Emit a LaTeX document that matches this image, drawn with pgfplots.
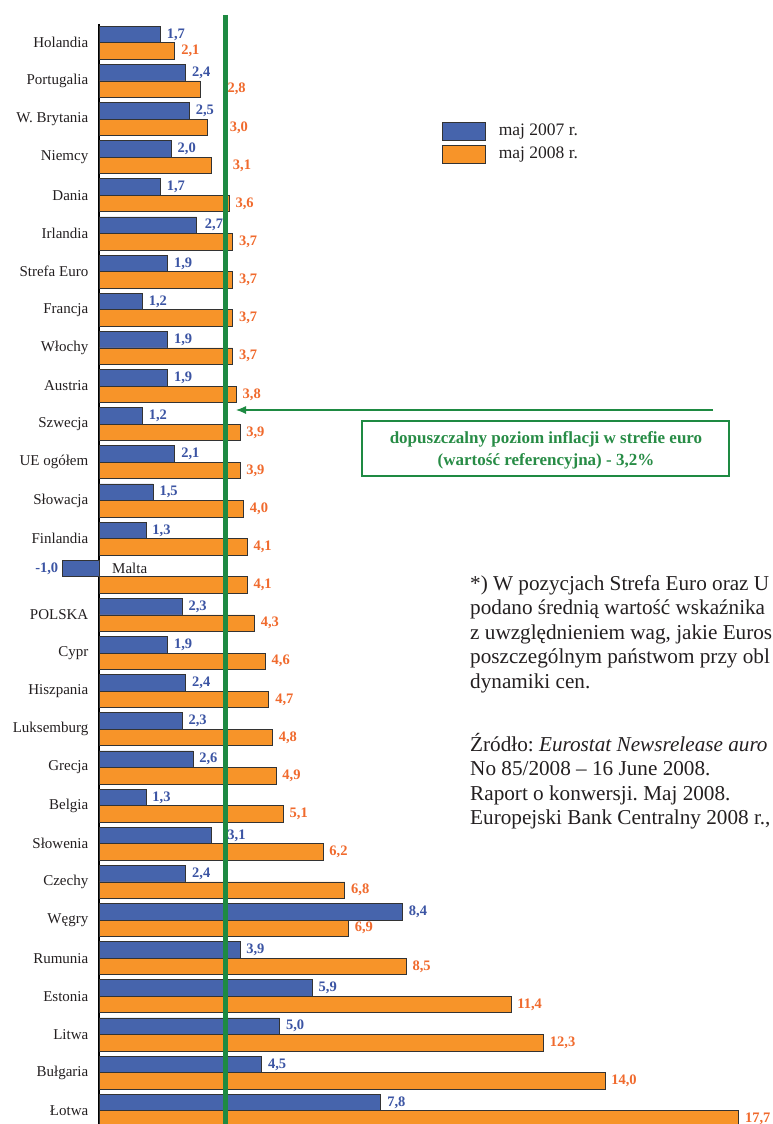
\documentclass[border=0pt]{standalone}
\usepackage{pgfplots}
\pgfplotsset{compat=1.18}
\usepackage{pgfplotstable}
\usepackage{fontspec}
\setmainfont{Liberation Serif}
\usetikzlibrary{arrows.meta}
\frenchspacing

\definecolor{barblue}{RGB}{70,100,172}
\definecolor{barorange}{RGB}{247,148,41}
\definecolor{lblblue}{RGB}{59,84,163}
\definecolor{lblorange}{RGB}{240,106,45}
\definecolor{refgreen}{RGB}{30,138,66}
\definecolor{txtgreen}{RGB}{40,140,70}
\definecolor{txtdark}{RGB}{35,31,32}

% i = row (0 = top); y07 = maj 2007, y08 = maj 2008; d07/d08 = label offset (pt)
\pgfplotstableread{
i  y07  d07  y08   d08
0  1.7  6    2.1   6
1  2.4  6    2.8   27
2  2.5  6    3.0   22
3  2.0  6    3.1   21.5
4  1.7  6    3.6   6
5  2.7  8    3.7   6
6  1.9  6    3.7   6
7  1.2  6    3.7   6
8  1.9  6    3.7   6
9  1.9  6    3.8   6
10 1.2  6    3.9   6
11 2.1  6    3.9   6
12 1.5  6    4.0   6
13 1.3  6    4.1   6
14 -1.0 -28  4.1   6
15 2.3  6    4.3   6
16 1.9  6    4.6   6
17 2.4  6    4.7   6
18 2.3  6    4.8   6
19 2.6  6    4.9   6
20 1.3  6    5.1   6
21 3.1  16   6.2   6
22 2.4  6    6.8   6
23 8.4  6    6.9   6
24 3.9  6    8.5   6
25 5.9  6    11.4  6
26 5.0  6    12.3  6
27 4.5  6    14.0  6
28 7.8  6    17.7  6
}\inflation

\begin{document}
\begin{tikzpicture}
\begin{axis}[
  scale only axis,
  width=674pt, height=1100pt,
  at={(99pt,-1124pt)}, anchor=south west,
  xmin=0, xmax=18.65,
  ymin=-0.493, ymax=28.348,
  y dir=reverse,
  enlargelimits=false,
  clip=false,
  axis x line=none,
  axis y line*=left,
  y axis line style={black, line width=1.2pt},
  xtick=\empty,
  ytick={0,...,28},
  yticklabels={Holandia,Portugalia,W. Brytania,Niemcy,Dania,Irlandia,Strefa Euro,Francja,Włochy,Austria,Szwecja,UE ogółem,Słowacja,Finlandia,{},POLSKA,Cypr,Hiszpania,Luksemburg,Grecja,Belgia,Słowenia,Czechy,Węgry,Rumunia,Estonia,Litwa,Bułgaria,Łotwa},
  major tick length=0pt,
  yticklabel style={font=\fontsize{15}{17}\selectfont, text=txtdark, inner sep=0pt, anchor=east, xshift=-10.5pt},
  /pgf/number format/fixed,
  /pgf/number format/fixed zerofill,
  /pgf/number format/precision=1,
  /pgf/number format/use comma,
  /pgf/number format/assume math mode=true,
  legend style={at={(axis description cs:0.5089,0.9106)}, anchor=north west,
    draw=none, fill=none, inner sep=0pt, outer sep=0pt, row sep=4pt, column sep=13pt,
    nodes={inner sep=0pt, text height=12pt, text depth=4pt},
    font=\fontsize{17.5}{20}\selectfont, text=txtdark},
  legend cell align=left,
]
\addplot[xbar, bar width=0.433, bar shift=0pt, fill=barblue, draw=black!80, line width=0.8pt,
  nodes near coords, point meta=x,
  visualization depends on={\thisrow{d07} \as \dshift},
  every node near coord/.append style={anchor=west, inner sep=0pt, xshift=\dshift pt, text=lblblue, font=\fontsize{14.5}{16}\selectfont\bfseries},
  legend image code/.code={\draw[fill=barblue, draw=black!80, line width=0.8pt] (0pt,-9pt) rectangle (43pt,9pt);}]
  table[x=y07, y expr=\thisrow{i}-0.2165] {\inflation};
\addlegendentry{maj 2007 r.}
\addplot[xbar, bar width=0.433, bar shift=0pt, fill=barorange, draw=black!80, line width=0.8pt,
  nodes near coords, point meta=x,
  visualization depends on={\thisrow{d08} \as \dshift},
  every node near coord/.append style={anchor=west, inner sep=0pt, xshift=\dshift pt, text=lblorange, font=\fontsize{14.5}{16}\selectfont\bfseries},
  legend image code/.code={\draw[fill=barorange, draw=black!80, line width=0.8pt] (0pt,-9pt) rectangle (43pt,9pt);}]
  table[x=y08, y expr=\thisrow{i}+0.2165] {\inflation};
\addlegendentry{maj 2008 r.}
% reference level line (as drawn in the original)
\addplot[refgreen, line width=5pt, forget plot] coordinates {(3.49,-0.729) (3.49,28.6)};
\node[anchor=west, inner sep=0pt, font=\fontsize{15}{17}\selectfont, text=txtdark] at (axis cs:0.36,13.7835) {Malta};
\end{axis}

% annotation
\draw[refgreen, line width=1.1pt, -{Latex[length=10pt,width=8pt]}] (713pt,-410pt) -- (236pt,-410pt);
\draw[refgreen, line width=1.1pt] (362pt,-421pt) rectangle (729pt,-476pt);
\node[align=center, text=txtgreen, font=\fontsize{17}{22}\selectfont\bfseries, inner sep=0pt] at (546pt,-450pt)
  {dopuszczalny poziom inflacji w strefie euro\\(wartość referencyjna) - 3,2\%};

% footnote text (as much as the original shows before its right edge)
\begin{scope}[every node/.style={anchor=base west, inner sep=0pt, font=\fontsize{21.2}{24}\selectfont, text=txtdark}]
\node at (470pt,-590pt) {*) W pozycjach Strefa Euro oraz U};
\node at (470pt,-614.5pt) {podano średnią wartość wskaźnika};
\node at (470pt,-639pt) {z uwzględnieniem wag, jakie Euros};
\node at (470pt,-663.5pt) {poszczególnym państwom przy obl};
\node at (470pt,-688pt) {dynamiki cen.};
\node at (470pt,-751pt) {Źródło: \textit{Eurostat Newsrelease auro}};
\node at (470pt,-775.5pt) {No 85/2008 – 16 June 2008.};
\node at (470pt,-800pt) {Raport o konwersji. Maj 2008.};
\node at (470pt,-824.5pt) {Europejski Bank Centralny 2008 r.,};
\end{scope}

\pgfresetboundingbox
\useasboundingbox (0pt,-1124pt) rectangle (773pt,0pt);
\end{tikzpicture}
\end{document}
